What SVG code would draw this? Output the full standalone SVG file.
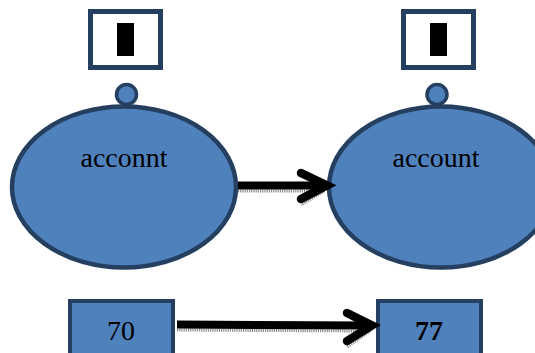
<svg xmlns="http://www.w3.org/2000/svg" width="535" height="353" viewBox="0 0 535 353">
<style>
.frame{fill:#fff;stroke:#243f60;stroke-width:5}
.bar{fill:#000}
.knob{fill:#4f81bd;stroke:#243f60;stroke-width:3.5}
.ell{fill:#4f81bd;stroke:#243f60;stroke-width:4.5}
.box{fill:#4f81bd;stroke:#243f60;stroke-width:4}
.lbl{font-family:"Liberation Serif","Times New Roman",serif;font-size:28px;fill:#000;text-anchor:middle}
.shaft{stroke:#000;stroke-width:8;fill:none}
.head{stroke:#000;stroke-width:8.5;fill:none;stroke-linecap:round;stroke-linejoin:miter}
.shadow{stroke:#8a8a8a;stroke-width:3;fill:none;stroke-dasharray:1.2 1}
</style>
<g id="node-left">
  <rect class="frame" x="90.5" y="11.5" width="70" height="56"/>
  <rect class="bar" x="117" y="23" width="17" height="33"/>
  <circle class="knob" cx="126.5" cy="94.5" r="10"/>
  <ellipse class="ell" cx="124" cy="187" rx="112" ry="80.5"/>
  <text class="lbl" x="124" y="167">acconnt</text>
</g>
<g id="node-right">
  <rect class="frame" x="403.5" y="11.5" width="70" height="56"/>
  <rect class="bar" x="430" y="23" width="17" height="33"/>
  <circle class="knob" cx="437" cy="94.5" r="10"/>
  <ellipse class="ell" cx="441" cy="187" rx="112" ry="80.5"/>
  <text class="lbl" x="436" y="167">account</text>
</g>
<g id="node-70">
  <rect class="box" x="70" y="301" width="103" height="56"/>
  <text class="lbl" x="121" y="340">70</text>
</g>
<g id="node-77">
  <rect class="box" x="378" y="301" width="103" height="56"/>
  <text class="lbl" x="429" y="340" font-weight="bold">77</text>
</g>
<g id="connectors">
  <line class="shadow" x1="238" y1="191" x2="320" y2="191"/>
  <line class="shadow" x1="324" y1="191" x2="301" y2="205"/>
  <line class="shaft" x1="238" y1="185.5" x2="324" y2="185.5"/>
  <polyline class="head" points="301,173 327,185.5 301,199"/>
  <line class="shadow" x1="177" y1="330" x2="366" y2="331"/>
  <line class="shadow" x1="370" y1="331" x2="347" y2="347"/>
  <line class="shaft" x1="177" y1="324.5" x2="369" y2="325.5"/>
  <polyline class="head" points="347,313 372,325.5 347,341"/>
</g>
</svg>
